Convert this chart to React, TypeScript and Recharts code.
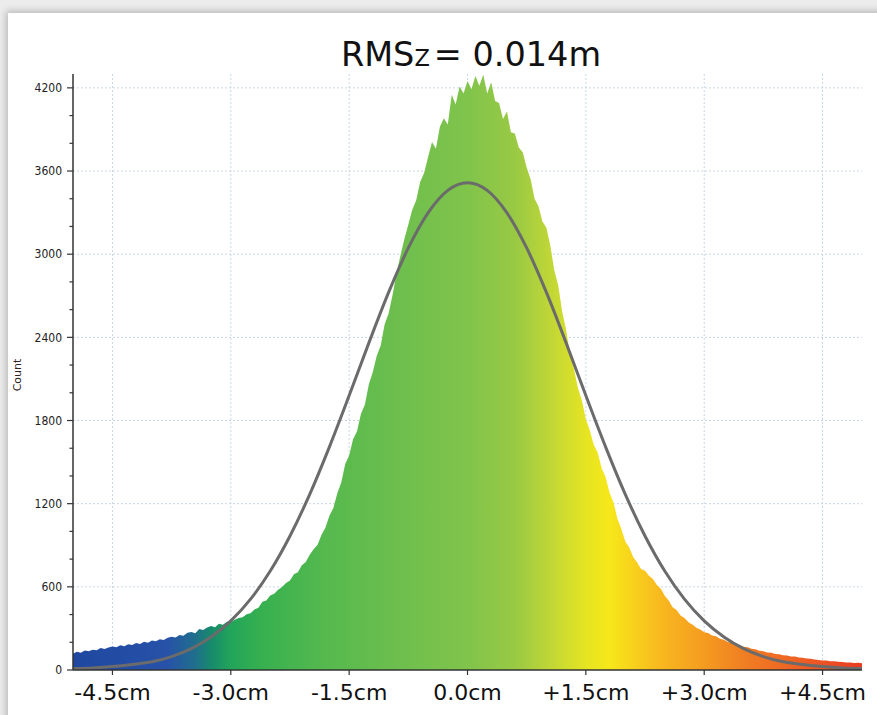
import React from 'react';
import { ComposedChart, Area, Line, XAxis, YAxis, CartesianGrid } from 'recharts';

// histogram bins: 0.05cm wide, starting at -5cm
const BIN_START = -5;
const BIN_STEP = 0.05;
const HIST_COUNTS = [
  118, 131, 125, 140, 136, 147, 142, 158, 151, 163, 170, 164, 178, 172, 186, 181, 195, 188, 203, 197, 212,
  208, 221, 216, 232, 240, 234, 252, 247, 268, 274, 266, 295, 288, 307, 318, 309, 333, 326, 348, 344,
  362, 375, 381, 402, 409, 436, 449, 492, 501, 538, 551, 579, 598, 627, 646, 690, 706, 755, 780, 832,
  872, 904, 975, 1028, 1112, 1168, 1275, 1352, 1486, 1548, 1665, 1722, 1848, 1915, 2062, 2150, 2268, 2341, 2495, 2572,
  2705, 2860, 2990, 3110, 3215, 3320, 3390, 3520, 3585, 3700, 3810, 3760, 3920, 3980, 3935, 4150, 4080, 4210, 4160, 4250,
  4190, 4285, 4215, 4295, 4160, 4240, 4105, 4090, 3975, 4030, 3880, 3870, 3770, 3735, 3625, 3540, 3400, 3345, 3235, 3190,
  3060, 2885, 2775, 2585, 2455, 2270, 2170, 2035, 1945, 1810, 1730, 1625, 1570, 1455, 1392, 1280, 1208, 1092, 1018, 928,
  884, 815, 776, 728, 716, 680, 657, 614, 586, 535, 502, 452, 432, 393, 376, 344, 329, 304, 293, 272,
  267, 249, 243, 225, 219, 202, 199, 185, 181, 168, 165, 153, 150, 138, 136, 126, 124, 115, 114, 106,
  105, 98, 97, 90, 88, 83, 81, 75, 73, 69, 68, 63, 63, 59, 58, 55, 55, 51, 52, 49,
];

// fitted curve, read every 0.25cm
const FIT_EVERY = 5; // one fit point per 5 bins
const FIT_COUNTS = [
  10, 15, 25, 40, 59, 97, 154, 238, 354, 511, 714, 967, 1267, 1610, 1980, 2360, 2724, 3045, 3298, 3460,
  3515,
  3460, 3298, 3045, 2724, 2360, 1980, 1610, 1267, 967, 714, 511, 354, 238, 154, 97, 59, 40, 25, 15, 10,
];

const X_TICKS = [-4.5, -3, -1.5, 0, 1.5, 3, 4.5];
const X_TICK_LABELS = ['-4.5cm', '-3.0cm', '-1.5cm', '0.0cm', '+1.5cm', '+3.0cm', '+4.5cm'];
const Y_MAJOR = [0, 600, 1200, 1800, 2400, 3000, 3600, 4200];
const Y_TICKS = [0, 200, 400, 600, 800, 1000, 1200, 1400, 1600, 1800, 2000, 2200, 2400, 2600, 2800, 3000,
  3200, 3400, 3600, 3800, 4000, 4200];

const TITLE_MAIN = 'RMS';
const TITLE_SUB = 'Z';
const TITLE_REST = '= 0.014m';
const Y_LABEL = 'Count';

const chartData = HIST_COUNTS.map((count, i) => ({
  x: BIN_START + i * BIN_STEP,
  count,
  fit: i % FIT_EVERY === 0 ? FIT_COUNTS[i / FIT_EVERY] : undefined,
}));

const YTick = (props: any) => {
  const { x, y, payload } = props;
  const major = Y_MAJOR.includes(payload.value);
  return (
    <g>
      <line x1={x - (major ? 6 : 3.5)} x2={x} y1={y} y2={y} stroke="#333" strokeWidth={1.2} />
      {major && (
        <text
          x={x - 11}
          y={y}
          dy="0.35em"
          textAnchor="end"
          fontSize={12}
          fontFamily="'DejaVu Sans Condensed', 'DejaVu Sans', sans-serif"
          fill="#222"
        >
          {payload.value}
        </text>
      )}
    </g>
  );
};

export default function App() {
  return (
    <div
      style={{
        position: 'absolute',
        left: 0,
        top: 0,
        width: 877,
        height: 715,
        overflow: 'hidden',
        background: '#ececec',
        fontFamily: "'DejaVu Sans', sans-serif",
      }}
    >
      {/* white panel with a soft shadow */}
      <div
        style={{
          position: 'absolute',
          left: 8,
          top: 13,
          width: 900,
          height: 740,
          background: '#fff',
          boxShadow: '0 0 7px 2px rgba(0,0,0,0.22)',
        }}
      />
      <div style={{ position: 'absolute', left: 0, top: 0 }}>
        <ComposedChart
          width={877}
          height={715}
          data={chartData}
          margin={{ top: 74, right: 15, left: 0, bottom: 0 }}
        >
          <defs>
            <linearGradient id="histGrad" x1="0" y1="0" x2="1" y2="0">
              <stop offset="0" stopColor="#1f47a0" />
              <stop offset="0.12" stopColor="#2752a8" />
              <stop offset="0.155" stopColor="#1f6f8c" />
              <stop offset="0.175" stopColor="#178a6b" />
              <stop offset="0.2" stopColor="#22a55a" />
              <stop offset="0.24" stopColor="#37b04f" />
              <stop offset="0.32" stopColor="#55b94e" />
              <stop offset="0.42" stopColor="#6fbf4d" />
              <stop offset="0.5" stopColor="#80c44b" />
              <stop offset="0.56" stopColor="#99c944" />
              <stop offset="0.61" stopColor="#c4d835" />
              <stop offset="0.65" stopColor="#e6e422" />
              <stop offset="0.68" stopColor="#f6e81a" />
              <stop offset="0.71" stopColor="#f8d11c" />
              <stop offset="0.745" stopColor="#f8b81f" />
              <stop offset="0.795" stopColor="#f59e20" />
              <stop offset="0.855" stopColor="#f07c23" />
              <stop offset="0.945" stopColor="#ed5524" />
              <stop offset="1" stopColor="#ea3b22" />
            </linearGradient>
          </defs>
          <CartesianGrid
            stroke="#c9d6e4"
            strokeDasharray="2 2"
            horizontalValues={Y_MAJOR.filter((v) => v > 0)}
            verticalValues={X_TICKS}
          />
          <XAxis
            type="number"
            dataKey="x"
            domain={[-5, 5]}
            ticks={X_TICKS}
            tickFormatter={(v: number) => X_TICK_LABELS[X_TICKS.indexOf(v)]}
            allowDataOverflow
            height={45}
            tickSize={5}
            tickMargin={9}
            axisLine={{ stroke: '#333', strokeWidth: 1.5 }}
            tickLine={{ stroke: '#333', strokeWidth: 1.2 }}
            tick={{ fontSize: 22, fill: '#111', fontFamily: "'DejaVu Sans', sans-serif" }}
          />
          <YAxis
            type="number"
            domain={[0, 4300]}
            ticks={Y_TICKS}
            allowDataOverflow
            width={73}
            tickSize={0}
            tickMargin={0}
            tickLine={false}
            axisLine={{ stroke: '#333', strokeWidth: 1.5 }}
            tick={<YTick />}
            interval={0}
          />
          <Area
            type="linear"
            dataKey="count"
            stroke="none"
            fill="url(#histGrad)"
            fillOpacity={1}
            isAnimationActive={false}
          />
          <Line
            type="monotone"
            dataKey="fit"
            stroke="#6b6b6b"
            strokeWidth={3}
            dot={false}
            connectNulls
            isAnimationActive={false}
          />
        </ComposedChart>
      </div>
      <div
        style={{
          position: 'absolute',
          left: 471,
          top: 38,
          transform: 'translateX(-50%)',
          whiteSpace: 'nowrap',
          fontSize: 33.5,
          lineHeight: '34px',
          color: '#111',
        }}
      >
        {TITLE_MAIN}
        <span style={{ fontSize: 22.5, marginRight: 4 }}>{TITLE_SUB}</span>
        {TITLE_REST}
      </div>
      <div
        style={{
          position: 'absolute',
          left: 17,
          top: 375,
          transform: 'translate(-50%, -50%) rotate(-90deg)',
          fontSize: 11,
          color: '#332222',
          whiteSpace: 'nowrap',
        }}
      >
        {Y_LABEL}
      </div>
    </div>
  );
}
